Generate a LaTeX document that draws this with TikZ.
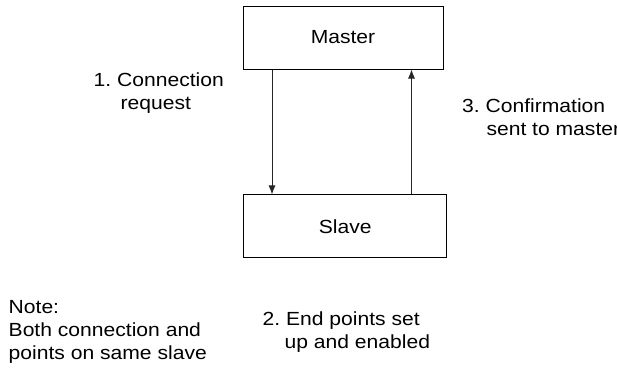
\documentclass[tikz,border=0pt]{standalone}
\usepackage{fontspec}
\setmainfont{Liberation Sans}[FakeStretch=1.11]
\usetikzlibrary{arrows.meta}
\begin{document}
\begin{tikzpicture}[x=1pt,y=-1pt,
  boxnode/.style={draw=black, line width=1pt, minimum width=200pt, minimum height=63pt, inner sep=0pt, font=\fontsize{19}{22.8}\selectfont},
  lbl/.style={anchor=base west, align=left, inner sep=0pt, font=\fontsize{19}{22.8}\selectfont},
  conn/.style={draw=black!85, line width=0.9pt, -{Latex[length=9pt,width=7pt]}}]
\useasboundingbox (0,0) rectangle (617,370);
\node[boxnode] (master) at (343,37.5) {Master};
\node[boxnode, minimum width=202.7pt, minimum height=62.7pt] (slave) at (345.3,226.3) {Slave};
\coordinate (dn) at (272,0);
\coordinate (up) at (411.5,0);
\draw[conn] (master.south -| dn) -- (slave.north -| dn);
\draw[conn] (slave.north -| up) -- (master.south -| up);
\node[lbl] (l1) at (93.5,109) {1.\ Connection\\\hspace*{27pt}request};
\node[lbl] (l3) at (462,135) {3.\ Confirmation\\\hspace*{24.3pt}sent to master};
\node[lbl] (l2) at (262.4,348.5) {2.\ End points set\\\hspace*{22pt}up and enabled};
\node[lbl] (note) at (8.5,359) {Note:\\Both connection and\\points on same slave};
\end{tikzpicture}
\end{document}
